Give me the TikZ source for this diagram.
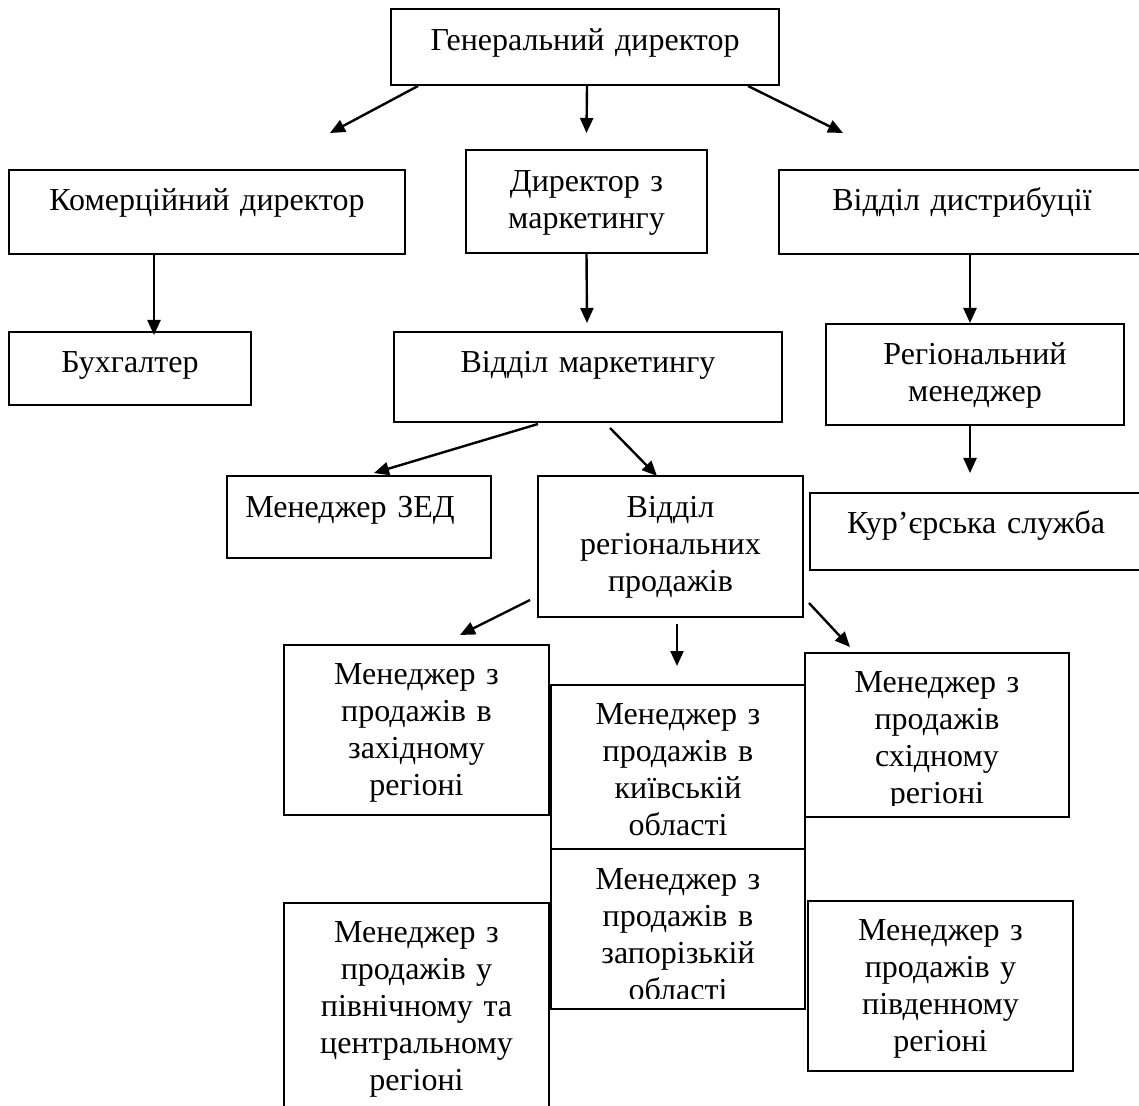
\documentclass[tikz,border=0pt]{standalone}
\usepackage{fontspec}
\setmainfont{Liberation Serif}
\usepackage{tikz}
\usetikzlibrary{arrows.meta,calc}

\begin{document}
\begin{tikzpicture}[x=0.5pt, y=-0.5pt,
    orgbox/.style n args={3}{draw, line width=1.1pt, inner sep=0pt, outer sep=0pt,
        anchor=north west, align=center, font=\fontsize{16pt}{18.5pt}\selectfont,
        text width=#1, text height=#2, text depth=#3},
    arr/.style={-{Triangle[length=7.5pt,width=6.5pt]}, line width=1.2pt}]
            \useasboundingbox (0,0) rectangle (1139,1106);

            % Top level
            \node[orgbox={194pt}{21pt}{17pt}] (gen) at (391,9) {Генеральний директор};

            % Second level
            \node[orgbox={198pt}{20.5pt}{21.5pt}] (komerc) at (9,170) {Комерційний директор};
            \node[orgbox={120.5pt}{21pt}{30.5pt}] (dirmark) at (466,150) {Директор з\\маркетингу};
            \node[orgbox={183pt}{20.5pt}{21.5pt}] (dist) at (779,170) {Відділ дистрибуції};

            % Third level
            \node[orgbox={121pt}{20.5pt}{16pt}] (bukh) at (9,332) {Бухгалтер};
            \node[orgbox={194pt}{20.5pt}{24.5pt}] (vmark) at (394,332) {Відділ маркетингу};
            \node[orgbox={149pt}{20.5pt}{30pt}] (regman) at (826,324) {Регіональний\\менеджер};

            % Fourth level
            \node[orgbox={132pt}{20.5pt}{20.5pt}] (zed) at (227,476) {Менеджер ЗЕД\kern9pt};
            \node[orgbox={132.5pt}{20.5pt}{50pt}] (vreg) at (538,476) {Відділ\\регіональних\\продажів};
            \node[orgbox={166pt}{20pt}{18.5pt}] (kur) at (810,493) {Кур’єрська служба};

            % Regional managers
            \node[orgbox={132.5pt}{19.5pt}{65.5pt}] (zakh) at (284,645) {Менеджер з\\продажів в\\західному\\регіоні};
            \node[orgbox={127pt}{19.5pt}{62.5pt}] (kyiv) at (551,685) {Менеджер з\\продажів в\\київській\\області};
            \node[orgbox={132pt}{19.5pt}{62.5pt}] (east) at (805,653) {};
            \begin{scope}
                \clip (east.north west) rectangle ($(east.south east)+(0,-12)$);
                \node[orgbox={132pt}{19.5pt}{62.5pt}, draw=none] (east-text) at (east.north west) {Менеджер з\\продажів\\східному\\регіоні};
            \end{scope}
            \node[orgbox={127pt}{20pt}{60pt}] (zap) at (551,849) {};
            \begin{scope}
                \clip (zap.north west) rectangle ($(zap.south east)+(0,-11)$);
                \node[orgbox={127pt}{20pt}{60pt}, draw=none] (zap-text) at (zap.north west) {Менеджер з\\продажів в\\запорізькій\\області};
            \end{scope}
            \node[orgbox={132.5pt}{19.5pt}{90.5pt}] (north) at (284,903) {Менеджер з\\продажів у\\північному та\\центральному\\регіоні};
            \node[orgbox={132.5pt}{19.5pt}{65.5pt}] (south) at (808,901) {Менеджер з\\продажів у\\південному\\регіоні};

            % Arrows
            \draw[arr] ($(gen.south west)+(27,1)$) -- ($(komerc.north)+(123,-37)$);
            \draw[arr] ($(gen.south)+(2,1)$) -- ($(dirmark.north)+(0,-17)$);
            \draw[arr] ($(gen.south east)+(-31,1)$) -- ($(dist.north)+(-119,-37)$);
            \draw[arr] ($(komerc.south west)+(145,0)$) -- ($(bukh.north west)+(145,3)$);
            \draw[arr] (dirmark.south) -- ($(vmark.north)+(-1,-9)$);
            \draw[arr] ($(dist.south west)+(191,0)$) -- ($(regman.north)+(-5,-1)$);
            \draw[arr] ($(regman.south)+(-5,0)$) -- ($(kur.north)+(-6,-20)$);
            \draw[arr] ($(vmark.south)+(-50,2)$) -- ($(zed.north)+(15,-3)$);
            \draw[arr] ($(vmark.south)+(22,6)$) -- ($(vreg.north)+(-13.5,0)$);
            \draw[arr] ($(vreg.south west)+(-8,-17)$) -- ($(zakh.north)+(43.5,-10)$);
            \draw[arr] ($(vreg.south)+(6.5,7)$) -- ($(kyiv.north)+(-1,-19)$);
            \draw[arr] ($(vreg.south east)+(6,-14)$) -- ($(east.north)+(-87,-6)$);
\end{tikzpicture}
\end{document}
